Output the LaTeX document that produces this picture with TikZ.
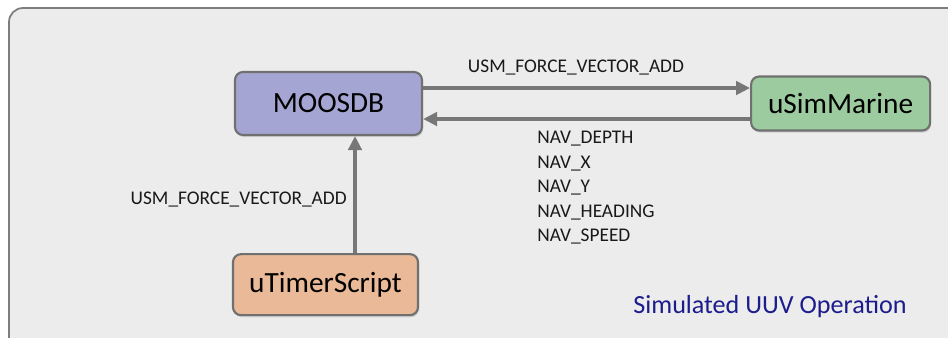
\documentclass[tikz,border=0pt]{standalone}
\usepackage{fontspec}
\setmainfont{Carlito}
\usepackage{xcolor}
\usepackage{tikz}
\usetikzlibrary{arrows.meta,positioning,shadows}
\definecolor{bgc}{RGB}{236,236,236}
\definecolor{framec}{RGB}{125,125,125}
\definecolor{edgec}{RGB}{112,112,112}
\definecolor{dbc}{RGB}{165,165,212}
\definecolor{simc}{RGB}{155,203,158}
\definecolor{timerc}{RGB}{233,185,152}
\definecolor{titlec}{RGB}{28,28,140}
\tikzset{
  app/.style={draw=edgec, line width=1.6pt, rounded corners=6pt, align=center, inner sep=0pt,
    font=\fontsize{22}{26}\selectfont, text=black,
    drop shadow={opacity=.25, shadow xshift=.8pt, shadow yshift=-1.6pt}},
  line/.style={-{Triangle[length=10.5pt, width=10pt]}, line width=2.6pt, draw=edgec!95},
  var/.style={font=\fontsize{14.5}{18.4}\selectfont, text=black!90, inner sep=0pt, align=left}
}

\begin{document}
\begin{tikzpicture}[x=0.75pt, y=-0.75pt, node distance=.25cm]
        \useasboundingbox (0,0) rectangle (948,337);
        \clip (0,0) rectangle (948,337);
        \draw[framec, fill=bgc, line width=1.3pt, rounded corners=10.5pt] (9,8) rectangle (965,355);

        \node[app, fill=dbc, minimum width=140.25pt, minimum height=47.25pt] (moosdb) at (328.5,103.5) {MOOSDB};
        \node[app, fill=simc, minimum width=134.25pt, minimum height=40.5pt, right=245.25pt of moosdb] (sim) {uSimMarine};
        \node[app, fill=timerc, minimum width=138.75pt, minimum height=45.75pt, below=87.75pt of moosdb, xshift=-2.25pt] (timer) {uTimerScript};

        \coordinate (ya) at (0,88);
        \coordinate (yb) at (0,119);
        \coordinate (vx) at (355,0);
        \draw[line] (moosdb.east |- ya) -- (sim.west |- ya);
        \draw[line] (sim.west |- yb) -- (moosdb.east |- yb);
        \draw[line] (timer.north -| vx) -- (moosdb.south -| vx);

        \node[var] (fvtop) at (576,68) {USM\_FORCE\_VECTOR\_ADD};
        \node[var, anchor=east] (fvleft) at (347,200) {USM\_FORCE\_VECTOR\_ADD};
        \node[var, anchor=west] (nav) at (537,188) {NAV\_DEPTH\\NAV\_X\\NAV\_Y\\NAV\_HEADING\\NAV\_SPEED};

        \node[font=\fontsize{19.6}{23}\selectfont, text=titlec, inner sep=0pt] (title) at (770,307) {Simulated UUV Operation};
      \end{tikzpicture}
\end{document}
